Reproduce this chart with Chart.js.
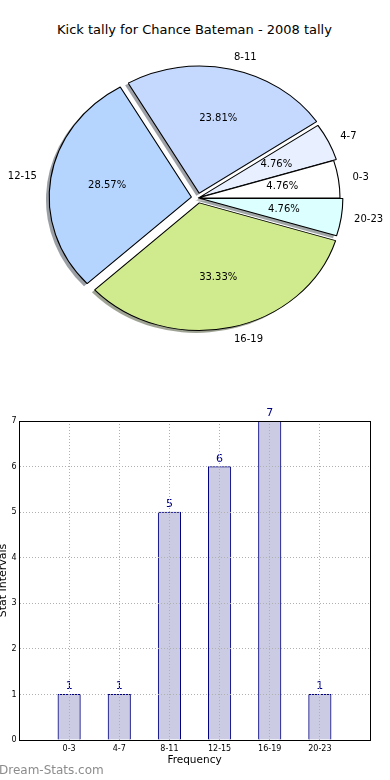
<!DOCTYPE html>
<html><head><meta charset="utf-8">
<script src="https://cdn.jsdelivr.net/npm/chart.js@4.4.0/dist/chart.umd.min.js"></script>
<style>
html,body{margin:0;padding:0;background:#fff;width:390px;height:780px;overflow:hidden;position:relative;}
#title{position:absolute;left:0;width:389px;top:21px;text-align:center;font:13px 'DejaVu Sans';color:#000;line-height:18px;white-space:nowrap}
#pie{position:absolute;left:0;top:0}
#bar{position:absolute;left:0;top:380px}
#wm{position:absolute;left:-1px;top:763px;font:12px 'DejaVu Sans';color:#8c8c8c;line-height:14px}
</style></head><body>
<div id="title">Kick tally for Chance Bateman - 2008 tally</div>
<canvas id="pie" width="390" height="360"></canvas>
<canvas id="bar" width="390" height="400"></canvas>
<div id="wm">Dream-Stats.com</div>
<script>
// ---- data ----
const categories = ['0-3', '4-7', '8-11', '12-15', '16-19', '20-23'];
const tallies = [1, 1, 5, 6, 7, 1];
const yTickValues = [0, 1, 2, 3, 4, 5, 6, 7];
const xAxisTitle = 'Frequency';
const yAxisTitle = 'Stat Intervals';

// ---- styles ----
const sliceColors = ['#ffffff', '#e8f0ff', '#c5d9ff', '#b5d5ff', '#d0eb8d', '#dcffff'];
const explodePx = [0, 1.5, 5, 6, 5, 1.5];
const FONT = "'DejaVu Sans'";
const PIE_R = 127;
const SX = 142 / PIE_R; // horizontal stretch of the (elliptical) pie

const total = tallies.reduce((a, b) => a + b, 0);
const rev = a => a.slice().reverse();

function shade(hex) {
  const n = parseInt(hex.slice(1), 16);
  const r = (n >> 16) & 255, g = (n >> 8) & 255, b = n & 255;
  return `rgba(${Math.round(r * 0.3)},${Math.round(g * 0.3)},${Math.round(b * 0.3)},0.5)`;
}

const pieFx = {
  id: 'pieFx',
  beforeDatasetsDraw(chart) {
    const ctx = chart.ctx;
    const meta = chart.getDatasetMeta(0);
    const cx = meta.data[0].x, cy = meta.data[0].y;
    ctx.save();
    ctx.translate(cx, cy); ctx.scale(SX, 1); ctx.translate(-cx, -cy);
    const sh = 0.02 * PIE_R;
    meta.data.forEach((arc) => {
      const o = arc.options;
      const off = (o.offset || 0) / 4;
      const a = (arc.startAngle + arc.endAngle) / 2;
      const ox = arc.x + Math.cos(a) * off - sh;
      const oy = arc.y + Math.sin(a) * off + sh;
      ctx.beginPath();
      ctx.moveTo(ox, oy);
      ctx.arc(ox, oy, arc.outerRadius + 0.5, arc.startAngle, arc.endAngle);
      ctx.closePath();
      ctx.fillStyle = shade(o.backgroundColor);
      ctx.fill();
    });
  },
  afterDatasetsDraw(chart) {
    const ctx = chart.ctx;
    ctx.restore();
    const meta = chart.getDatasetMeta(0);
    const labels = chart.data.labels;
    const data = chart.data.datasets[0].data;
    ctx.save();
    ctx.font = `10px ${FONT}`;
    ctx.fillStyle = '#000';
    ctx.textBaseline = 'middle';
    meta.data.forEach((arc, i) => {
      const a = (arc.startAngle + arc.endAngle) / 2;
      const off = (arc.options.offset || 0) / 4;
      const r = arc.outerRadius;
      const c = Math.cos(a), s = Math.sin(a);
      const lx = arc.x + SX * (off + 1.1 * r) * c;
      const ly = arc.y + (off + 1.1 * r) * s;
      ctx.textAlign = c > 0 ? 'left' : 'right';
      ctx.fillText(labels[i], lx, ly);
      const px = arc.x + SX * (off + 0.6 * r) * c;
      const py = arc.y + (off + 0.6 * r) * s;
      ctx.textAlign = 'center';
      ctx.fillText((data[i] / total * 100).toFixed(2) + '%', px, py);
    });
    ctx.restore();
  }
};

new Chart(document.getElementById('pie'), {
  type: 'pie',
  data: {
    labels: rev(categories),
    datasets: [{
      data: rev(tallies),
      backgroundColor: rev(sliceColors),
      borderColor: '#000',
      borderWidth: 1,
      offset: rev(explodePx).map(v => v * 4),
      hoverOffset: 0
    }]
  },
  options: {
    responsive: false,
    animation: false,
    rotation: 90,
    radius: PIE_R,
    layout: { padding: { top: 36, left: 6, right: 0, bottom: 0 } },
    plugins: { legend: { display: false }, tooltip: { enabled: false }, title: { display: false } },
    events: []
  },
  plugins: [pieFx]
});

// ---- bar chart ----
const padLabels = ['', ...categories, ''];
const padData = [null, ...tallies, null];

const barFx = {
  id: 'barFx',
  afterDatasetsDraw(chart) {
    const ctx = chart.ctx;
    const meta = chart.getDatasetMeta(0);
    const data = chart.data.datasets[0].data;
    ctx.save();
    ctx.font = `11px ${FONT}`;
    ctx.fillStyle = '#000080';
    ctx.textAlign = 'center';
    ctx.textBaseline = 'alphabetic';
    meta.data.forEach((bar, i) => {
      if (data[i] == null) return;
      ctx.fillText(String(data[i]), bar.x, bar.y - 5);
    });
    ctx.restore();
  },
  afterDraw(chart) {
    const ctx = chart.ctx;
    const a = chart.chartArea;
    ctx.save();
    ctx.strokeStyle = '#000';
    ctx.lineWidth = 1;
    const l = Math.round(a.left) + 0.5, t = Math.round(a.top) + 0.5;
    const r = Math.round(a.right) + 0.5, b = Math.round(a.bottom) + 0.5;
    ctx.strokeRect(l, t, r - l, b - t);
    ctx.restore();
  }
};

new Chart(document.getElementById('bar'), {
  type: 'bar',
  data: {
    labels: padLabels,
    datasets: [{
      data: padData,
      backgroundColor: '#cbcbe3',
      borderColor: '#000080',
      borderWidth: 1,
      barThickness: 22.5
    }]
  },
  options: {
    responsive: false,
    animation: false,
    events: [],
    layout: { padding: { top: 41, right: 20, left: 0, bottom: 0 } },
    plugins: { legend: { display: false }, tooltip: { enabled: false } },
    scales: {
      x: {
        type: 'category',
        offset: false,
        grid: { offset: false, color: '#b0b0b0', lineWidth: 1, drawTicks: false, z: 1 },
        border: { color: '#000', width: 1, dash: [1, 2], z: 1 },
        ticks: { font: { family: FONT, size: 8 }, color: '#000', padding: 4, maxRotation: 0, autoSkip: false },
        title: { display: true, text: xAxisTitle, font: { family: FONT, size: 10.5 }, color: '#000', padding: { top: 0, bottom: 13.5 } },
        afterFit(s) { s.height = 40; }
      },
      y: {
        min: yTickValues[0],
        max: yTickValues[yTickValues.length - 1],
        afterBuildTicks(s) { s.ticks = yTickValues.map(v => ({ value: v })); },
        grid: { color: '#b0b0b0', lineWidth: 1, drawTicks: false, z: 1 },
        border: { color: '#000', width: 1, dash: [1, 2], z: 1 },
        ticks: { font: { family: FONT, size: 8 }, color: '#000', padding: 2.5 },
        title: { display: true, text: yAxisTitle, font: { family: FONT, size: 11 }, color: '#000', padding: { top: -3.4, bottom: 0 } },
        afterFit(s) { s.width = 19; }
      }
    }
  },
  plugins: [barFx]
});
</script>
</body></html>
